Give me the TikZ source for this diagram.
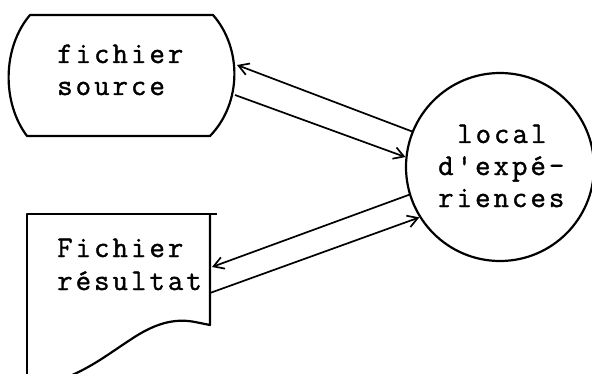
\documentclass[tikz,border=0pt]{standalone}
\usepackage{fontspec}
\setmonofont{Latin Modern Mono}[LetterSpace=10, FakeBold=1.2]
\usetikzlibrary{arrows.meta}
\begin{document}
\begin{tikzpicture}[x=1pt,y=1pt,
  shapeline/.style={line width=2.2pt, line join=round},
  conn/.style={line width=1.7pt},
  arr/.style={conn,-{Straight Barb[length=10pt,width=12pt,line width=1.7pt]}},
  lbl/.style={font=\ttfamily\fontsize{30}{32}\selectfont, anchor=base west, inner sep=0pt}]
\useasboundingbox (0,0) rectangle (592,373);
\clip (0,0) rectangle (592,373);
% fichier source (stored data shape)
\draw[shapeline] (30,358) -- (213,358) .. controls (242,325) and (242,270) .. (210,237)
  -- (27,237) .. controls (2,270) and (2,325) .. (30,358) -- cycle;
\coordinate (srcA) at (237,308);
\coordinate (srcB) at (235,278);
% local d'experiences
\node[draw, shapeline, circle, minimum size=188pt, inner sep=0pt] (lab) at (500,206) {};
% fichier resultat (document shape)
\draw[shapeline] (217,159) -- (27,159) -- (27,-5);
\draw[shapeline] (210,159) -- (210,48) -- (195,51) .. controls (175,55) and (155,50) .. (130,33)
  .. controls (110,20) and (95,8) .. (70,-3);
\coordinate (resA) at (212,106);
\coordinate (resB) at (210,80);
% connectors
\draw[arr] (lab.158.7) -- (srcA);
\draw[arr] (srcB) -- (lab.174.4);
\draw[arr] (lab.197.5) -- (resA);
\draw[arr] (resB) -- (lab.212.2);
% labels
\node[lbl] (f1) at (57,310) {fichier};
\node[lbl] (f2) at (57,278) {source};
\node[lbl] (r1) at (57,116) {Fichier};
\node[lbl] (r2) at (57,83) {résultat};
\node[lbl] (l1) at (457,230) {local};
\node[lbl] (l2) at (438,198) {d'expé-};
\node[lbl] (l3) at (438,166) {riences};
\end{tikzpicture}
\end{document}
